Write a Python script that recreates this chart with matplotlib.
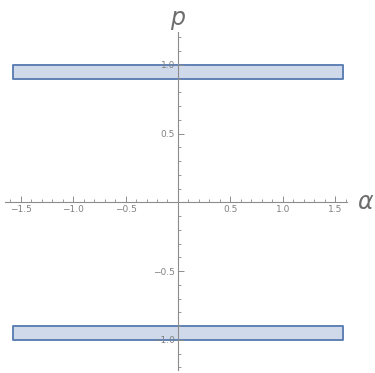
import numpy as np
import matplotlib.pyplot as plt
from matplotlib.ticker import MultipleLocator

# Region bounds: alpha spans (-pi/2, pi/2), p sits in two thin bands
alpha_range = [-np.pi / 2, np.pi / 2]
upper_band = [0.9, 1.0]
lower_band = [-1.0, -0.9]

x_ticks = [-1.5, -1.0, -0.5, 0.5, 1.0, 1.5]
y_ticks = [-1.0, -0.5, 0.5, 1.0]

FILL = "#cfd9ea"
EDGE = "#5e81b5"
AXIS = "#8c8c8c"
TICK_TEXT = "#808080"
LABEL = "#6e6e6e"

fig = plt.figure(figsize=(3.75, 3.73), dpi=100)
ax = fig.add_axes([5 / 375, 3 / 373, 342 / 375, 338 / 373])

for lo, hi in (upper_band, lower_band):
    xs = np.array(alpha_range)
    ax.fill_between(xs, lo, hi, facecolor=FILL, edgecolor=EDGE, linewidth=1.4)

ax.set_xlim(-1.648, 1.61)
ax.set_ylim(-1.22, 1.24)

for side in ("top", "right"):
    ax.spines[side].set_visible(False)
for side in ("left", "bottom"):
    ax.spines[side].set_position(("data", 0))
    ax.spines[side].set_color(AXIS)
    ax.spines[side].set_linewidth(0.8)

ax.set_xticks(x_ticks)
ax.set_yticks(y_ticks)
ax.set_xticklabels([f"{v:.1f}".replace("-", "\u2212") for v in x_ticks])
ax.set_yticklabels([f"{v:.1f}".replace("-", "\u2212") for v in y_ticks])
ax.xaxis.set_minor_locator(MultipleLocator(0.1))
ax.yaxis.set_minor_locator(MultipleLocator(0.1))
ax.tick_params(which="major", direction="in", length=4, width=0.7,
               color=AXIS, labelcolor=TICK_TEXT, labelsize=6.5, pad=2)
ax.tick_params(which="minor", direction="in", length=2, width=0.6, color=AXIS)

ax.text(1.71, 0.0, r"$\alpha$", fontsize=17, color=LABEL,
        ha="left", va="center", clip_on=False)
ax.text(0.0, 1.33, r"$p$", fontsize=17, color=LABEL,
        ha="center", va="center", clip_on=False)

fig.savefig("out.png", dpi=100)
